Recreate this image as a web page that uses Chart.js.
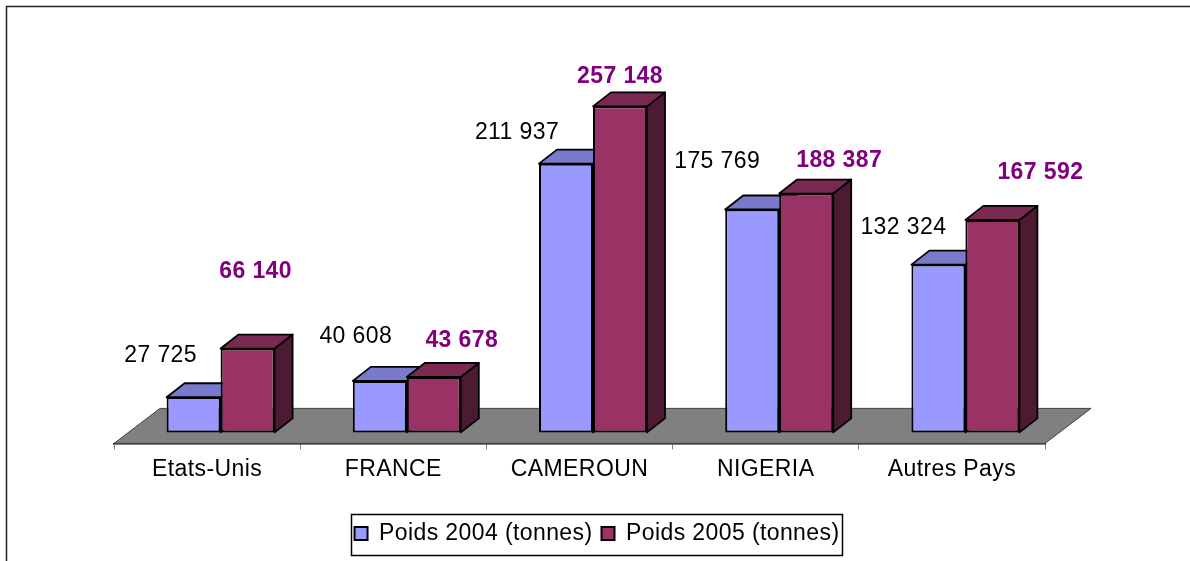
<!DOCTYPE html>
<html lang="fr">
<head>
<meta charset="utf-8">
<title>Poids 2004 / 2005</title>
<script src="https://cdn.jsdelivr.net/npm/chart.js@4"></script>
<style>
  html, body { margin: 0; padding: 0; background: #fff; overflow: hidden; }
  canvas { display: block; }
</style>
</head>
<body>
<canvas id="myChart" width="1190" height="561"></canvas>
<script>
const pays = ['Etats-Unis', 'FRANCE', 'CAMEROUN', 'NIGERIA', 'Autres Pays'];
const poids2004 = [27725, 40608, 211937, 175769, 132324];
const poids2005 = [66140, 43678, 257148, 188387, 167592];

// decalage manuel des etiquettes par rapport au haut de chaque barre
const decalage2004 = [[-33, -43], [-24, -45], [-49, -32], [-35, -49], [-35, -38]];
const decalage2005 = [[8, -78], [28, -37], [0, -31], [33, -34], [48, -48]];

const PROFONDEUR_X = 18;
const PROFONDEUR_Y = 14;
const DECALAGE_BARRES = 13.5; // les barres sont posees au milieu du plancher
const ESPACEMENT = '0.4px';

function formatNombre(n) {
    return String(n).replace(/\B(?=(\d{3})+$)/g, ' ');
}

function poly(ctx, pts, fill) {
    ctx.beginPath();
    pts.forEach((p, i) => i ? ctx.lineTo(p[0], p[1]) : ctx.moveTo(p[0], p[1]));
    ctx.closePath();
    ctx.fillStyle = fill;
    ctx.fill();
    ctx.stroke();
}

const faces = [
    { top: '#7a7acc', side: '#4d4d80' },
    { top: '#7a2952', side: '#4d1a33' }
];

const plugin3D = {
    id: 'plugin3D',
    beforeLayout(chart) {
        chart.ctx.letterSpacing = ESPACEMENT;
    },
    afterLayout(chart) {
        // la legende reste centree sur toute la largeur
        chart.legend.left = 0;
        chart.legend.right = chart.width + 4;
    },
    beforeDraw(chart) {
        const ctx = chart.ctx;
        ctx.letterSpacing = ESPACEMENT;
        // cadre
        ctx.save();
        ctx.strokeStyle = '#222';
        ctx.lineWidth = 1.5;
        ctx.beginPath();
        ctx.moveTo(6.5, chart.height);
        ctx.lineTo(6.5, 6.5);
        ctx.lineTo(chart.width, 6.5);
        ctx.stroke();
        ctx.restore();
    },
    beforeDatasetsDraw(chart) {
        const ctx = chart.ctx;
        const x = chart.scales.x;
        const y = chart.scales.y;
        const bas = y.bottom;
        const fond = y.getPixelForValue(0) - 24;

        ctx.save();
        // plancher
        ctx.beginPath();
        ctx.moveTo(x.left, bas);
        ctx.lineTo(x.left + 46, fond);
        ctx.lineTo(x.right + 46, fond);
        ctx.lineTo(x.right, bas);
        ctx.closePath();
        ctx.fillStyle = '#808080';
        ctx.fill();
        ctx.strokeStyle = '#404040';
        ctx.lineWidth = 1;
        ctx.stroke();

        // faces de dessus et de cote
        ctx.translate(DECALAGE_BARRES, 0);
        ctx.strokeStyle = '#000';
        ctx.lineWidth = 1.8;
        ctx.lineJoin = 'round';
        [0, 1].forEach(d => {
            chart.getDatasetMeta(d).data.forEach(bar => {
                const g = bar.x - bar.width / 2;
                const dr = bar.x + bar.width / 2;
                const h = bar.y;
                const b = bar.base;
                poly(ctx, [[dr, h], [dr + PROFONDEUR_X, h - PROFONDEUR_Y], [dr + PROFONDEUR_X, b - PROFONDEUR_Y], [dr, b]], faces[d].side);
                poly(ctx, [[g, h], [g + PROFONDEUR_X, h - PROFONDEUR_Y], [dr + PROFONDEUR_X, h - PROFONDEUR_Y], [dr, h]], faces[d].top);
            });
        });
        ctx.restore();

        // les faces avant sont decalees de la meme facon
        ctx.save();
        ctx.translate(DECALAGE_BARRES, 0);
    },
    afterDatasetsDraw(chart) {
        const ctx = chart.ctx;
        ctx.restore();

        ctx.save();
        ctx.textAlign = 'center';
        ctx.textBaseline = 'middle';
        ctx.font = '23px "Liberation Sans"';
        ctx.fillStyle = '#000';
        chart.getDatasetMeta(0).data.forEach((bar, i) => {
            ctx.fillText(formatNombre(poids2004[i]), bar.x + 13.5 + decalage2004[i][0], bar.y + 1 + decalage2004[i][1]);
        });
        ctx.font = 'bold 23px "Liberation Sans"';
        ctx.fillStyle = '#800080';
        chart.getDatasetMeta(1).data.forEach((bar, i) => {
            ctx.fillText(formatNombre(poids2005[i]), bar.x + 13.5 + decalage2005[i][0], bar.y + 1 + decalage2005[i][1]);
        });
        ctx.restore();
    },
    afterDraw(chart) {
        // cadre de la legende
        const ctx = chart.ctx;
        const l = chart.legend;
        ctx.save();
        ctx.strokeStyle = '#000';
        ctx.lineWidth = 1.5;
        ctx.strokeRect(351.5, Math.round(l.top + (l.height - 41) / 2) + 0.5, 491, 41);
        ctx.restore();
    }
};

new Chart(document.getElementById('myChart').getContext('2d'), {
    type: 'bar',
    data: {
        labels: pays,
        datasets: [
            {
                label: 'Poids 2004 (tonnes)',
                data: poids2004,
                backgroundColor: '#9999ff',
                borderColor: '#000',
                borderWidth: 2,
                borderSkipped: false
            },
            {
                label: 'Poids 2005 (tonnes)',
                data: poids2005,
                backgroundColor: '#993366',
                borderColor: '#000',
                borderWidth: 2,
                borderSkipped: false
            }
        ]
    },
    options: {
        responsive: false,
        animation: false,
        events: [],
        layout: { padding: { left: 114, right: 145, top: 52, bottom: 6 } },
        datasets: { bar: { categoryPercentage: 0.58, barPercentage: 1 } },
        scales: {
            x: {
                afterFit(scale) { scale.height += 24; },
                grid: { drawOnChartArea: false, tickColor: '#808080', tickLength: 6 },
                border: { color: '#000', width: 1.5 },
                ticks: { color: '#000', font: { family: '"Liberation Sans"', size: 23 }, padding: 6, maxRotation: 0 }
            },
            y: { display: false, min: -8675, max: 300000 }
        },
        plugins: {
            tooltip: { enabled: false },
            legend: {
                position: 'bottom',
                labels: {
                    color: '#000',
                    font: { family: '"Liberation Sans"', size: 23 },
                    boxWidth: 13,
                    boxHeight: 13,
                    padding: 9
                }
            }
        }
    },
    plugins: [plugin3D]
});
</script>
</body>
</html>
